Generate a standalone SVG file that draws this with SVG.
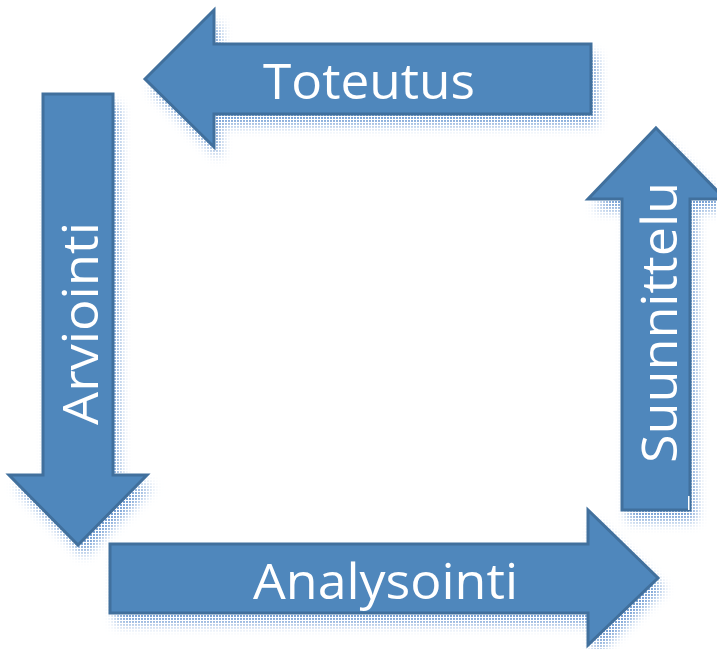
<svg xmlns="http://www.w3.org/2000/svg" width="717" height="649" viewBox="0 0 717 649">
<style>
.arrow{fill:#4F87BC;stroke:#41709D;stroke-width:3;stroke-linejoin:miter}
.lbl{fill:#FFFFFF;font-family:"Open Sans","Liberation Sans",sans-serif;font-size:50px}
</style>
<defs>
<pattern id="dots" width="3" height="3" patternUnits="userSpaceOnUse">
<rect x="0" y="0" width="2" height="2" fill="#6F9BD2"/>
</pattern>
<filter id="blur" x="-20%" y="-20%" width="140%" height="140%"><feGaussianBlur stdDeviation="6"/></filter>
<path id="pT" d="M145,79 L214,10 L214,44 L591,44 L591,114 L214,114 L214,147 Z"/>
<path id="pA" d="M43,94 L113,94 L113,475 L147,475 L78,545 L9,475 L43,475 Z"/>
<path id="pS" d="M656,128 L725,199 L690,199 L690,510 L622,510 L622,199 L588,199 Z"/>
<path id="pN" d="M110,544 L588,544 L588,510 L658,578 L588,645 L588,613 L110,613 Z"/>
<mask id="shadowMask" maskUnits="userSpaceOnUse" x="0" y="0" width="717" height="649">
<g fill="#FFFFFF" filter="url(#blur)" transform="translate(6,11)">
<use href="#pT"/><use href="#pA"/><use href="#pS"/><use href="#pN"/>
</g>
</mask>
</defs>
<rect width="717" height="649" fill="#FFFFFF"/>
<g id="shadows">
<rect x="0" y="0" width="717" height="649" fill="url(#dots)" mask="url(#shadowMask)"/>
</g>
<g id="toteutus">
<use href="#pT" class="arrow"/>
<text class="lbl" x="263" y="99" textLength="212" lengthAdjust="spacingAndGlyphs">Toteutus</text>
</g>
<g id="arviointi">
<use href="#pA" class="arrow"/>
<text class="lbl" transform="translate(98,425) rotate(-90)" x="0" y="0" textLength="203" lengthAdjust="spacingAndGlyphs">Arviointi</text>
</g>
<g id="suunnittelu">
<use href="#pS" class="arrow"/>
<text class="lbl" transform="translate(677,463) rotate(-90)" x="0" y="0" textLength="281" lengthAdjust="spacingAndGlyphs">Suunnittelu</text>
<rect x="688" y="496" width="1.5" height="14" fill="#FFFFFF"/>
</g>
<g id="analysointi">
<use href="#pN" class="arrow"/>
<text class="lbl" x="253" y="599" textLength="265" lengthAdjust="spacingAndGlyphs">Analysointi</text>
</g>
<g id="connectors"/>
</svg>
